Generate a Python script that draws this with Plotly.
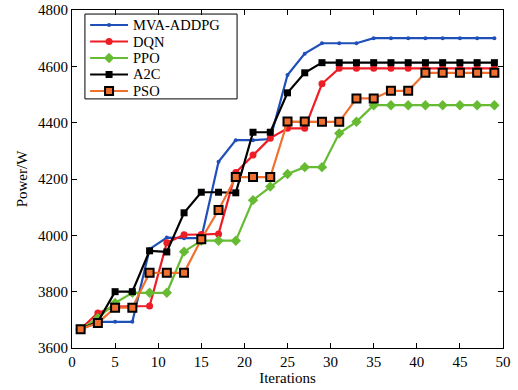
import plotly.graph_objects as go

iterations = list(range(1, 50, 2))

mva_addpg = [3667, 3693, 3693, 3693, 3951, 3992, 3990, 3990, 4261, 4338, 4338, 4342, 4569, 4645,
             4682, 4682, 4682, 4700, 4700, 4700, 4700, 4700, 4700, 4700, 4700]
dqn = [3667, 3724, 3747, 3747, 3749, 3974, 4002, 4003, 4005, 4223, 4285, 4345, 4380, 4380,
       4538, 4593, 4593, 4593, 4593, 4593, 4593, 4593, 4593, 4593, 4593]
ppo = [3667, 3706, 3760, 3796, 3796, 3796, 3942, 3981, 3981, 3981, 4125, 4173, 4218, 4242,
       4242, 4362, 4403, 4462, 4462, 4462, 4462, 4462, 4462, 4462, 4462]
a2c = [3667, 3693, 3800, 3800, 3945, 3941, 4080, 4153, 4153, 4151, 4366, 4366, 4506, 4577,
       4613, 4613, 4613, 4613, 4613, 4613, 4613, 4613, 4613, 4613, 4613]
pso = [3667, 3689, 3743, 3743, 3867, 3867, 3867, 3986, 4090, 4207, 4207, 4207, 4404, 4404,
       4403, 4403, 4486, 4486, 4513, 4513, 4577, 4577, 4577, 4577, 4577]

names = ["MVA-ADDPG", "DQN", "PPO", "A2C", "PSO"]
colors = ["#1f4fb8", "#ee1c24", "#66bb33", "#000000", "#f07030"]
markers = [
    dict(symbol="circle", size=4, color=colors[0]),
    dict(symbol="circle", size=7, color=colors[1]),
    dict(symbol="diamond", size=8, color=colors[2]),
    dict(symbol="square", size=7, color=colors[3]),
    dict(symbol="square", size=8, color=colors[4], line=dict(color="#000000", width=2)),
]
values = [mva_addpg, dqn, ppo, a2c, pso]

font = "Liberation Serif"
fig = go.Figure()
for name, vals, col, mk in zip(names, values, colors, markers):
    fig.add_trace(go.Scatter(x=iterations, y=vals, name=name, mode="lines+markers",
                             line=dict(color=col, width=2.2), marker=mk, showlegend=False))

# hand-built legend (paper-fraction positions on an overlay axis)
leg_x0, leg_x1 = 0.030, 0.383
leg_y0, leg_y1 = 0.737, 0.988
row_y = [0.9556, 0.9068, 0.8580, 0.8092, 0.7604]
key_x0, key_xm, key_x1, text_x = 0.042, 0.086, 0.130, 0.139
fig.add_shape(type="rect", xref="paper", yref="paper", x0=leg_x0, x1=leg_x1,
              y0=leg_y0, y1=leg_y1, line=dict(color="#000000", width=1),
              fillcolor="white", layer="below")
for name, col, mk, ry in zip(names, colors, markers, row_y):
    fig.add_trace(go.Scatter(x=[key_x0, key_x1], y=[ry, ry], mode="lines",
                             line=dict(color=col, width=2.2), xaxis="x2", yaxis="y2",
                             showlegend=False, hoverinfo="skip"))
    fig.add_trace(go.Scatter(x=[key_xm], y=[ry], mode="markers", marker=mk,
                             xaxis="x2", yaxis="y2", showlegend=False, hoverinfo="skip"))
    fig.add_annotation(x=text_x, y=ry, xref="paper", yref="paper", text=name,
                       showarrow=False, xanchor="left", yanchor="middle", borderpad=0,
                       font=dict(family=font, size=14.5, color="#000000"))

axis_common = dict(showline=True, linecolor="#000000", linewidth=1.2, mirror="ticks",
                   ticks="inside", ticklen=5, tickcolor="#000000", showgrid=False,
                   zeroline=False, automargin=False,
                   tickfont=dict(family=font, size=15, color="#000000"))

fig.update_layout(
    width=518, height=390,
    margin=dict(l=72, r=15, t=10, b=42),
    paper_bgcolor="white", plot_bgcolor="white",
    font=dict(family=font, color="#000000"),
    xaxis=dict(range=[0, 50], dtick=5, title=dict(text="Iterations", standoff=2,
               font=dict(family=font, size=15)), **axis_common),
    yaxis=dict(range=[3600, 4800], dtick=200, title=dict(text="Power/W", standoff=6,
               font=dict(family=font, size=15)), **axis_common),
    xaxis2=dict(overlaying="x", range=[0, 1], visible=False, fixedrange=True),
    yaxis2=dict(overlaying="y", range=[0, 1], visible=False, fixedrange=True),
    showlegend=False,
)

fig.write_html("out.html")
